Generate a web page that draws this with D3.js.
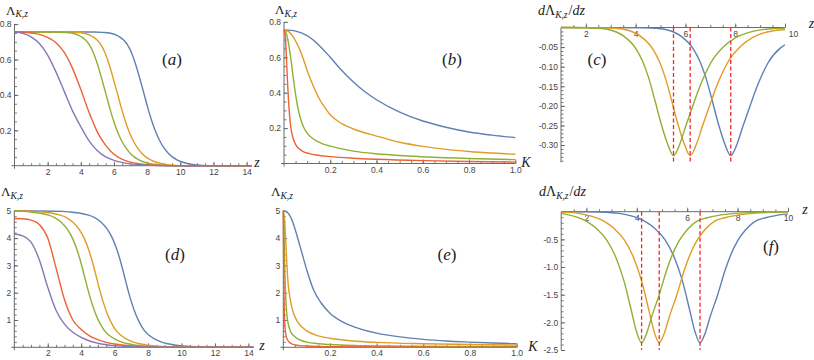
<!DOCTYPE html>
<html>
<head>
<meta charset="utf-8">
<script src="https://cdn.jsdelivr.net/npm/d3@7"></script>
<style>
  body { margin: 0; background: #fff; }
  svg { display: block; }
</style>
</head>
<body>
<svg id="chart" width="814" height="360"></svg>
<script>
// ---- tick labels ----
const zTicks = [2, 4, 6, 8, 10, 12, 14]
const zDerivTicks = [2, 4, 6, 8, 10]
const kTicks = [0.2, 0.4, 0.6, 0.8, 1.0]
const lamTopTicks = [0.2, 0.4, 0.6, 0.8]
const lamBotTicks = [1, 2, 3, 4, 5]
const cYTicks = [-0.05, -0.10, -0.15, -0.20, -0.25, -0.30]
const fYTicks = [-0.5, -1.0, -1.5, -2.0, -2.5]

// ---- (a) Lambda vs z, top row ----
const aBlue = [[0,0.755],[4.8,0.755],[5.3,0.753],[5.8,0.748],[6.3,0.73],[6.55,0.713],[6.8,0.685],[7.05,0.64],[7.3,0.575],[7.55,0.495],[7.8,0.41],[8.05,0.324],[8.3,0.247],[8.55,0.183],[8.8,0.134],[9.05,0.096],[9.3,0.068],[9.8,0.033],[10.3,0.015],[10.8,0.006],[11.3,0.002],[11.8,0],[14.3,0]]
const aOrange = [[0,0.755],[3.2,0.755],[3.7,0.753],[4.2,0.748],[4.7,0.73],[4.95,0.713],[5.2,0.685],[5.45,0.64],[5.7,0.575],[5.95,0.495],[6.2,0.41],[6.45,0.324],[6.7,0.247],[6.95,0.183],[7.2,0.134],[7.45,0.096],[7.7,0.068],[8.2,0.033],[8.7,0.015],[9.2,0.006],[9.7,0.002],[10.2,0],[14.3,0]]
const aGreen = [[0,0.755],[2.5,0.755],[3.0,0.753],[3.5,0.748],[4.0,0.73],[4.25,0.713],[4.5,0.685],[4.75,0.64],[5.0,0.575],[5.25,0.495],[5.5,0.41],[5.75,0.324],[6.0,0.247],[6.25,0.183],[6.5,0.134],[6.75,0.096],[7.0,0.068],[7.5,0.033],[8.0,0.015],[8.5,0.006],[9.0,0.002],[9.5,0],[14.3,0]]
const aRed = [[0,0.755],[1,0.75],[1.5,0.742],[2,0.725],[2.5,0.695],[3,0.64],[3.5,0.55],[4,0.43],[4.5,0.3],[5,0.19],[5.5,0.115],[6,0.065],[6.5,0.036],[7,0.02],[8,0.006],[9,0.002],[10,0],[14.3,0]]
const aPurple = [[0,0.755],[0.5,0.748],[1,0.728],[1.5,0.69],[2,0.625],[2.5,0.53],[3,0.42],[3.5,0.31],[4,0.22],[4.5,0.14],[5,0.085],[5.5,0.05],[6,0.03],[7,0.01],[8,0.003],[9,0],[14.3,0]]

// ---- (b) Lambda vs K, top row ----
const bBlue = [[0,0.755],[0.05,0.748],[0.1,0.722],[0.15,0.67],[0.2,0.6],[0.25,0.525],[0.3,0.46],[0.35,0.405],[0.4,0.36],[0.5,0.29],[0.6,0.24],[0.7,0.205],[0.8,0.178],[0.9,0.16],[1.0,0.146]]
const bOrange = [[0,0.755],[0.02,0.745],[0.04,0.716],[0.055,0.68],[0.07,0.637],[0.085,0.585],[0.1,0.525],[0.115,0.475],[0.13,0.428],[0.155,0.36],[0.18,0.31],[0.2,0.275],[0.25,0.225],[0.3,0.195],[0.4,0.155],[0.5,0.12],[0.6,0.097],[0.7,0.08],[0.8,0.068],[0.9,0.059],[1.0,0.052]]
const bGreen = [[0,0.755],[0.008,0.74],[0.015,0.71],[0.02,0.675],[0.03,0.59],[0.04,0.485],[0.05,0.39],[0.06,0.315],[0.07,0.26],[0.085,0.205],[0.1,0.172],[0.12,0.145],[0.14,0.128],[0.17,0.11],[0.2,0.098],[0.3,0.07],[0.4,0.055],[0.5,0.045],[0.6,0.038],[0.8,0.028],[1.0,0.022]]
const bRed = [[0,0.755],[0.004,0.735],[0.008,0.67],[0.012,0.55],[0.016,0.44],[0.02,0.345],[0.025,0.26],[0.03,0.2],[0.04,0.14],[0.05,0.108],[0.065,0.083],[0.085,0.066],[0.11,0.056],[0.14,0.048],[0.2,0.039],[0.3,0.03],[0.4,0.024],[0.6,0.016],[0.8,0.011],[1.0,0.008]]

// ---- (c) dLambda/dz, top row ----
const cGreen = [[1,0],[2.02,-0.001],[2.52,-0.002],[3.02,-0.007],[3.52,-0.022],[4.02,-0.055],[4.27,-0.085],[4.52,-0.128],[4.77,-0.185],[5.02,-0.245],[5.27,-0.295],[5.52,-0.327],[5.77,-0.298],[6.02,-0.25],[6.27,-0.205],[6.52,-0.16],[6.77,-0.122],[7.02,-0.09],[7.52,-0.05],[8.02,-0.026],[8.52,-0.013],[9.02,-0.006],[9.52,-0.003],[10,-0.0015]]
const cOrange = [[1,0],[2.69,-0.001],[3.19,-0.002],[3.69,-0.007],[4.19,-0.022],[4.69,-0.055],[4.94,-0.085],[5.19,-0.128],[5.44,-0.185],[5.69,-0.245],[5.94,-0.295],[6.19,-0.327],[6.44,-0.298],[6.69,-0.25],[6.94,-0.205],[7.19,-0.16],[7.44,-0.122],[7.69,-0.09],[8.19,-0.05],[8.69,-0.026],[9.19,-0.013],[9.69,-0.007],[10,-0.005]]
const cBlue = [[1,0],[4.32,-0.001],[4.82,-0.002],[5.32,-0.007],[5.82,-0.022],[6.32,-0.055],[6.57,-0.085],[6.82,-0.128],[7.07,-0.185],[7.32,-0.245],[7.57,-0.295],[7.82,-0.327],[8.07,-0.298],[8.32,-0.25],[8.57,-0.205],[8.82,-0.16],[9.07,-0.122],[9.32,-0.09],[9.82,-0.052],[10,-0.044]]
const cDashZ = [5.52, 6.19, 7.82]

// ---- (d) Lambda vs z, bottom row ----
const dBlue = [[0,5.0],[2.88,4.98],[3.38,4.955],[3.88,4.92],[4.38,4.85],[4.78,4.76],[5.18,4.59],[5.58,4.31],[5.88,3.98],[6.18,3.5],[6.38,3.09],[6.58,2.62],[6.78,2.14],[6.98,1.71],[7.28,1.18],[7.58,0.8],[7.78,0.61],[8.08,0.43],[8.38,0.31],[8.78,0.2],[9.18,0.13],[9.58,0.085],[10.08,0.05],[10.58,0.03],[11.08,0.017],[11.58,0.009],[12.58,0.002],[13.58,0],[14.3,0]]
const dOrange = [[0,5.0],[1.19,4.98],[1.69,4.955],[2.19,4.92],[2.69,4.85],[3.09,4.76],[3.49,4.59],[3.89,4.31],[4.19,3.98],[4.49,3.5],[4.69,3.09],[4.89,2.62],[5.09,2.14],[5.29,1.71],[5.59,1.18],[5.89,0.8],[6.09,0.61],[6.39,0.43],[6.69,0.31],[7.09,0.2],[7.49,0.13],[7.89,0.085],[8.39,0.05],[8.89,0.03],[9.39,0.017],[9.89,0.009],[10.89,0.002],[11.89,0],[14.3,0]]
const dGreen = [[0,5.0],[0.49,4.98],[0.99,4.955],[1.49,4.92],[1.99,4.85],[2.39,4.76],[2.79,4.59],[3.19,4.31],[3.49,3.98],[3.79,3.5],[3.99,3.09],[4.19,2.62],[4.39,2.14],[4.59,1.71],[4.89,1.18],[5.19,0.8],[5.39,0.61],[5.69,0.43],[5.99,0.31],[6.39,0.2],[6.79,0.13],[7.19,0.085],[7.69,0.05],[8.19,0.03],[8.69,0.017],[9.19,0.009],[10.19,0.002],[11.19,0],[14.3,0]]
const dRed = [[0,4.72],[0.5,4.71],[1,4.66],[1.5,4.5],[2,4.0],[2.5,2.9],[3,1.75],[3.5,1.0],[4,0.65],[4.5,0.42],[5,0.28],[5.5,0.18],[6,0.12],[7,0.05],[8,0.02],[9,0.007],[10,0.002],[11,0],[14.3,0]]
const dPurple = [[0,4.15],[0.5,4.08],[1,3.85],[1.5,3.2],[2,2.2],[2.5,1.35],[3,0.85],[3.5,0.55],[4,0.36],[4.5,0.23],[5,0.15],[6,0.06],[7,0.025],[8,0.01],[9,0.003],[10,0],[14.3,0]]

// ---- (e) Lambda vs K, bottom row ----
const eBlue = [[0,5.0],[0.02,4.92],[0.04,4.6],[0.06,4.05],[0.08,3.45],[0.1,2.85],[0.13,2.1],[0.16,1.65],[0.2,1.25],[0.25,0.95],[0.3,0.76],[0.4,0.52],[0.5,0.38],[0.6,0.29],[0.7,0.23],[0.8,0.19],[0.9,0.155],[1.0,0.13]]
const eOrange = [[0,5.0],[0.005,4.7],[0.01,4.0],[0.015,3.1],[0.02,2.4],[0.03,1.75],[0.04,1.35],[0.06,0.95],[0.08,0.74],[0.1,0.6],[0.15,0.42],[0.2,0.33],[0.3,0.23],[0.4,0.18],[0.6,0.13],[0.8,0.1],[1.0,0.08]]
const eGreen = [[0,5.0],[0.003,4.2],[0.006,2.9],[0.01,1.9],[0.015,1.22],[0.02,0.9],[0.03,0.6],[0.045,0.42],[0.06,0.32],[0.08,0.24],[0.1,0.19],[0.15,0.13],[0.2,0.1],[0.3,0.065],[0.5,0.042],[0.7,0.03],[1.0,0.02]]
const eRed = [[0,5.0],[0.001,4.0],[0.002,2.8],[0.003,1.9],[0.005,1.1],[0.008,0.65],[0.012,0.42],[0.02,0.25],[0.03,0.16],[0.05,0.09],[0.1,0.045],[0.2,0.022],[0.5,0.009],[1.0,0.004]]

// ---- (f) dLambda/dz, bottom row ----
const fGreen = [[1,-0.03],[1.49,-0.08],[1.99,-0.17],[2.39,-0.3],[2.79,-0.5],[3.19,-0.85],[3.49,-1.25],[3.79,-1.8],[3.99,-2.17],[4.19,-2.37],[4.39,-2.2],[4.59,-1.9],[4.89,-1.5],[5.19,-1.05],[5.39,-0.8],[5.69,-0.52],[5.99,-0.33],[6.39,-0.17],[6.79,-0.11],[7.19,-0.07],[7.69,-0.04],[8.19,-0.022],[8.69,-0.012],[9.19,-0.006],[10,-0.002]]
const fOrange = [[1,-0.008],[1.69,-0.03],[2.19,-0.08],[2.69,-0.17],[3.09,-0.3],[3.49,-0.5],[3.89,-0.85],[4.19,-1.25],[4.49,-1.8],[4.69,-2.17],[4.89,-2.37],[5.09,-2.2],[5.29,-1.9],[5.59,-1.5],[5.89,-1.05],[6.09,-0.8],[6.39,-0.52],[6.69,-0.33],[7.09,-0.17],[7.49,-0.11],[7.89,-0.07],[8.39,-0.04],[8.89,-0.022],[9.39,-0.012],[10,-0.005]]
const fBlue = [[1,0],[2,-0.002],[2.81,-0.012],[3.31,-0.03],[3.81,-0.08],[4.31,-0.17],[4.71,-0.3],[5.11,-0.5],[5.51,-0.85],[5.81,-1.25],[6.11,-1.8],[6.31,-2.17],[6.51,-2.37],[6.71,-2.2],[6.91,-1.9],[7.21,-1.5],[7.51,-1.05],[7.71,-0.8],[8.01,-0.52],[8.31,-0.33],[8.71,-0.17],[9.11,-0.11],[9.51,-0.07],[10,-0.04]]
const fDashZ = [4.19, 4.89, 6.51]

// ---- styles ----
const COL = { blue: "#5E81B5", orange: "#E19C24", green: "#8FB032", red: "#EB6235", purple: "#8778B3" }
const AXIS = "#5a5a5a"
const DASH = "#f0282a"
const SERIF = "'Liberation Serif','Times New Roman',serif"
const SANS = "'Liberation Sans',Arial,sans-serif"

const steps = (from, to, step) => d3.range(Math.round(from / step), Math.round(to / step) + 1).map(i => +(i * step).toFixed(4))

const panels = [
  { tag: "a", xDomain: [0, 14.3], xRange: [14.5, 251.6], yDomain: [0, 0.8], yRange: [165.7, 24.1],
    xMajor: zTicks, xMinor: steps(0.5, 14, 0.5), xFmt: d => d,
    yMajor: lamTopTicks, yMinor: steps(0.05, 0.8, 0.05), yFmt: d => d.toFixed(1),
    series: [[aBlue, COL.blue], [aOrange, COL.orange], [aGreen, COL.green], [aRed, COL.red], [aPurple, COL.purple]],
    xName: "z", xNamePos: [257, 166.5], yName: "lam", yNamePos: [6, 14.5], tagPos: [172, 65], ext: 3 },
  { tag: "b", xDomain: [0, 1.0], xRange: [284, 515.3], yDomain: [0, 0.8], yRange: [163.5, 21.9],
    xMajor: kTicks, xMinor: steps(0.05, 1, 0.05), xFmt: d => d.toFixed(1),
    yMajor: lamTopTicks, yMinor: steps(0.05, 0.8, 0.05), yFmt: d => d.toFixed(1),
    series: [[bBlue, COL.blue], [bOrange, COL.orange], [bGreen, COL.green], [bRed, COL.red]],
    xName: "K", xNamePos: [526, 167], yName: "lam", yNamePos: [275, 14], tagPos: [452, 65], ext: 3 },
  { tag: "c", xDomain: [1, 10], xRange: [561, 785], yDomain: [-0.344, 0], yRange: [162.3, 27.5],
    xMajor: zDerivTicks, xMinor: steps(1.5, 10, 0.5), xFmt: d => d,
    yMajor: cYTicks, yMinor: steps(-0.34, -0.01, 0.01), yFmt: d => d.toFixed(2),
    series: [[cBlue, COL.blue], [cOrange, COL.orange], [cGreen, COL.green]], dash: cDashZ,
    xName: "z", xNamePos: [811.5, 28], yName: "dlam", yNamePos: [538, 15], tagPos: [597, 65], ext: 0 },
  { tag: "d", xDomain: [0, 14.3], xRange: [14.3, 253.4], yDomain: [0, 5], yRange: [347.3, 210.8],
    xMajor: zTicks, xMinor: steps(0.5, 14, 0.5), xFmt: d => d,
    yMajor: lamBotTicks, yMinor: steps(0.2, 5, 0.2), yFmt: d => d,
    series: [[dBlue, COL.blue], [dOrange, COL.orange], [dGreen, COL.green], [dRed, COL.red], [dPurple, COL.purple]],
    xName: "z", xNamePos: [262, 350], yName: "lam", yNamePos: [1, 196], tagPos: [175, 260], ext: 3 },
  { tag: "e", xDomain: [0, 1.0], xRange: [283.3, 516.6], yDomain: [0, 5], yRange: [347.3, 210.8],
    xMajor: kTicks, xMinor: steps(0.05, 1, 0.05), xFmt: d => d.toFixed(1),
    yMajor: lamBotTicks, yMinor: steps(0.2, 5, 0.2), yFmt: d => d,
    series: [[eBlue, COL.blue], [eOrange, COL.orange], [eGreen, COL.green], [eRed, COL.red]],
    xName: "K", xNamePos: [533, 350.5], yName: "lam", yNamePos: [271, 196], tagPos: [447, 260], ext: 3 },
  { tag: "f", xDomain: [1, 10], xRange: [561.2, 788], yDomain: [-2.5, 0], yRange: [350, 211.7],
    xMajor: zDerivTicks, xMinor: steps(1.5, 10, 0.5), xFmt: d => d,
    yMajor: fYTicks, yMinor: steps(-2.5, -0.1, 0.1), yFmt: d => d.toFixed(1),
    series: [[fBlue, COL.blue], [fOrange, COL.orange], [fGreen, COL.green]], dash: fDashZ,
    xName: "z", xNamePos: [805, 214], yName: "dlam", yNamePos: [539, 196], tagPos: [771, 252], ext: 0 }
]

const svg = d3.select("#chart")

function styleAxis(sel) {
  sel.attr("color", AXIS).attr("font-family", SANS).attr("font-size", 8.5)
  sel.selectAll("text").attr("fill", "#444")
  sel.selectAll(".tick line").attr("stroke-width", 0.8)
  sel.select(".domain").remove()
}

function yNameText(g, kind, pos) {
  const t = g.append("text").attr("x", pos[0]).attr("y", pos[1])
    .attr("font-family", SERIF).attr("font-size", kind === "dlam" ? 14 : 13).attr("fill", "#222")
  if (kind === "dlam") t.append("tspan").attr("font-style", "italic").text("d")
  t.append("tspan").text("Λ")
  t.append("tspan").attr("font-size", 9.5).attr("font-style", "italic").attr("dy", 2.5).text("K,z")
  if (kind === "dlam") {
    t.append("tspan").attr("dy", -2.5).attr("dx", 1).text("/")
    t.append("tspan").attr("font-style", "italic").text("dz")
  }
}

panels.forEach(p => {
  const x = d3.scaleLinear().domain(p.xDomain).range(p.xRange)
  const y = d3.scaleLinear().domain(p.yDomain).range(p.yRange)
  const g = svg.append("g").attr("class", "panel-" + p.tag)
  const y0 = y(0), x0 = x(p.xDomain[0])

  // minor + major ticks on x axis (ticks point up, labels below)
  g.append("g").attr("transform", `translate(0,${y0})`)
    .call(d3.axisBottom(x).tickValues(p.xMinor).tickSizeInner(-2.5).tickSizeOuter(0).tickFormat(""))
    .call(styleAxis)
  const xa = g.append("g").attr("transform", `translate(0,${y0})`)
    .call(d3.axisBottom(x).tickValues(p.xMajor).tickSizeInner(-4).tickSizeOuter(0).tickPadding(3).tickFormat(p.xFmt))
    .call(styleAxis)
  if (p.tag === "c") xa.selectAll(".tick text").filter(d => d === 10).attr("dx", 8)

  // minor + major ticks on y axis (ticks point right, labels left)
  g.append("g").attr("transform", `translate(${x0},0)`)
    .call(d3.axisLeft(y).tickValues(p.yMinor).tickSizeInner(-2.5).tickSizeOuter(0).tickFormat(""))
    .call(styleAxis)
  g.append("g").attr("transform", `translate(${x0},0)`)
    .call(d3.axisLeft(y).tickValues(p.yMajor).tickSizeInner(-4).tickSizeOuter(0).tickPadding(3).tickFormat(p.yFmt))
    .call(styleAxis)

  // axis lines
  g.append("line").attr("x1", x0 - p.ext).attr("x2", x(p.xDomain[1])).attr("y1", y0).attr("y2", y0)
    .attr("stroke", AXIS).attr("stroke-width", 0.9)
  g.append("line").attr("x1", x0).attr("x2", x0).attr("y1", y(p.yDomain[0]) + p.ext).attr("y2", y(p.yDomain[1]))
    .attr("stroke", AXIS).attr("stroke-width", 0.9)

  // curves
  const line = d3.line().x(d => x(d[0])).y(d => y(d[1])).curve(d3.curveMonotoneX)
  p.series.forEach(([data, color]) => {
    g.append("path").datum(data).attr("d", line)
      .attr("fill", "none").attr("stroke", color).attr("stroke-width", 1.4)
  })

  // dashed markers at the minima
  if (p.dash) {
    g.append("g").attr("class", "dashes")
      .selectAll("line").data(p.dash).join("line")
      .attr("x1", d => x(d)).attr("x2", d => x(d))
      .attr("y1", y(0)).attr("y2", y(p.yDomain[0]))
      .style("stroke", DASH).style("stroke-width", 1.3).style("stroke-dasharray", "4,2.5")
  }

  // axis names
  g.append("text").attr("x", p.xNamePos[0]).attr("y", p.xNamePos[1]).attr("text-anchor", "middle")
    .attr("font-family", SERIF).attr("font-style", "italic").attr("font-size", 14).attr("fill", "#222")
    .text(p.xName)
  yNameText(g, p.yName, p.yNamePos)

  // panel tag
  const t = g.append("text").attr("x", p.tagPos[0]).attr("y", p.tagPos[1]).attr("text-anchor", "middle")
    .attr("font-family", SERIF).attr("font-size", 17).attr("fill", "#222")
  t.append("tspan").text("(")
  t.append("tspan").attr("font-style", "italic").text(p.tag)
  t.append("tspan").text(")")
})
</script>
</body>
</html>
